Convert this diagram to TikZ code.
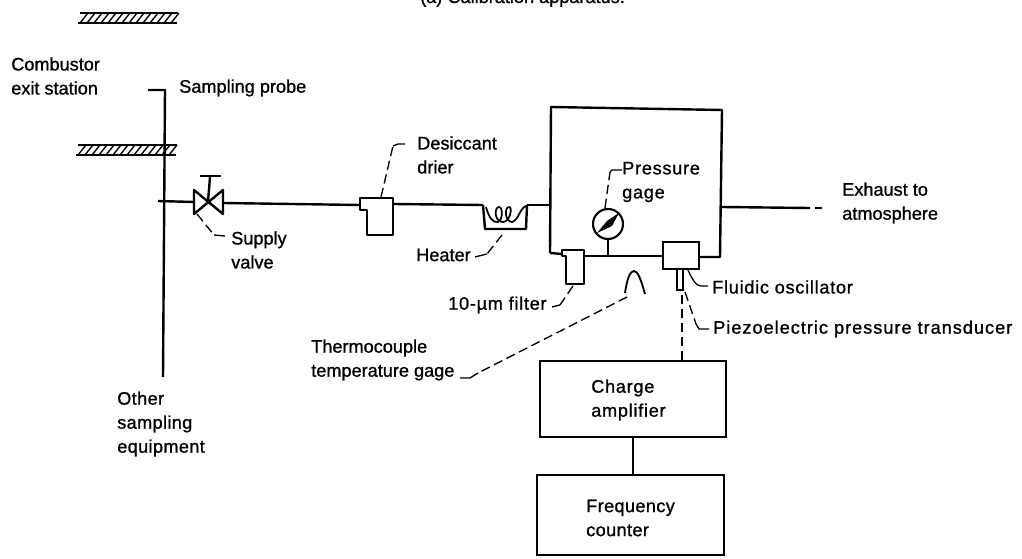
\documentclass[tikz,border=0pt]{standalone}
\usepackage{fontspec}
\setmainfont{Liberation Sans}[BoldFont={Liberation Sans},BoldFeatures={FakeBold=1}]
\begin{document}
\begin{tikzpicture}[x=0.75pt,y=-0.75pt,
  pipe/.style={line width=1.8pt,line join=round},
  leader/.style={line width=1pt,dash pattern=on 7pt off 3.5pt},
  solidleader/.style={line width=1pt},
  boxnode/.style={draw,line width=1.8pt,inner sep=0pt},
  lbl/.style={font=\fontsize{13.6pt}{18pt}\selectfont\bfseries,align=left,anchor=west,inner sep=0pt},
  slight/.style={font=\fontsize{13.6pt}{18pt}\selectfont\bfseries\addfontfeatures{LetterSpace=2}},
  wide/.style={font=\fontsize{13.6pt}{18pt}\selectfont\bfseries\addfontfeatures{LetterSpace=4}},
  wider/.style={font=\fontsize{13.6pt}{18pt}\selectfont\bfseries\addfontfeatures{LetterSpace=5.5}},
  hatchwall/.style={line width=1pt}]
\useasboundingbox (0,0) rectangle (1022,559);
\clip (0,0) rectangle (1022,559);
% title, cut by the page edge as in the reference
\node[lbl,anchor=base west] (title) at (420,3) {(a) Calibration apparatus.};
% walls
\draw[line width=1.8pt] (80,13) -- (178,13);
\draw[line width=1.8pt] (78,23) -- (177,23);
\foreach \i in {0,...,13} \draw[hatchwall] ({80+7*\i},23) -- ({88+7*\i},13);
\draw[line width=1.8pt] (78,145) -- (177,145);
\draw[line width=1.8pt] (76,155) -- (176,155);
\foreach \i in {0,...,13} \draw[hatchwall] ({78+7*\i},155) -- ({86+7*\i},145);
% labels
\node[lbl] (combustor) at (11,76) {Combustor\\exit station};
\node[lbl] (probe) at (179,88) {Sampling probe};
\node[lbl] (supply) at (231,250) {Supply\\valve};
\node[lbl] (drier) at (417,155) {Desiccant\\drier};
\node[lbl] (heater) at (416,255) {Heater};
\node[lbl,wide] (filter) at (448,305) {10-µm filter};
\node[lbl,wide] (pgage) at (622,182) {Pressure\\gage};
\node[lbl] (thermo) at (311,360) {Thermocouple\\temperature gage};
\node[lbl,wide] (fluidic) at (712,287) {Fluidic oscillator};
\node[lbl,wider] (piezo) at (713,329) {Piezoelectric pressure transducer};
\node[lbl] (exhaust) at (842,203) {Exhaust to\\atmosphere};
\node[lbl,slight] (other) at (117,424) {Other\\sampling\\equipment};
% boxes
\node[boxnode,minimum width=36*0.75pt,minimum height=27*0.75pt] (osc) at (681,255.5) {};
\node[boxnode,minimum width=6*0.75pt,minimum height=21*0.75pt,line width=1.2pt] (trans) at (680,279.5) {};
\node[boxnode,minimum width=186*0.75pt,minimum height=76*0.75pt] (charge) at (633,399) {};
\node[lbl,wide] (chargetxt) at (591,400) {Charge\\amplifier};
\node[boxnode,minimum width=187*0.75pt,minimum height=80*0.75pt] (freq) at (630.5,515) {};
\node[lbl,slight] (freqtxt) at (586,518) {Frequency\\counter};
\node[circle,draw,line width=1.6pt,minimum size=30*0.75pt,inner sep=0pt] (gauge) at (608,224) {};
% coordinates
\coordinate (probetop) at (148,90);
\coordinate (probecorner) at (165,90);
\coordinate (probebottom) at (163,377);
\coordinate (branch) at (158,201);
\coordinate (valve) at (208,202);
\coordinate (valveL) at (194,202);
\coordinate (valveR) at (223,203);
\coordinate (drierL) at (360,205);
\coordinate (drierR) at (393,204);
\coordinate (heatL) at (483,205);
\coordinate (heatR) at (527,205);
\coordinate (chamberin) at (551,205);
\coordinate (chTL) at (551,107);
\coordinate (chTR) at (722,110);
\coordinate (chBL) at (550,253);
\coordinate (chBR) at (720,257);
\coordinate (filterL) at (562,254);
\coordinate (filterR) at (584,256);
\coordinate (tee) at (608,256);
\coordinate (exhaustA) at (722,207);
\coordinate (exhaustB) at (810,208);
% probe
\draw[pipe] (probetop) -- (probecorner) -- (probebottom);
\draw[pipe] (branch) -- (valveL);
% valve
\draw[pipe] (valveL) ++(0,-12) -- ++(0,24) -- (223,190) -- (223,214) -- cycle;
\draw[pipe] (valve) -- (210,177);
\draw[pipe] (200,176) -- (221,176);
\draw[pipe] (valveR) -- (drierL);
% drier
\draw[pipe] (drierL) |- (393,198) -- (393,235) -| (367,210) -- (360,210) -- (drierL);
\draw[pipe] (drierR) -- (heatL);
% heater
\draw[pipe] (heatL) -- (485,229) -- (526,229) -- (heatR);
\draw[line width=1.3pt] (486,207) .. controls (489,218) and (493,223) .. (498,222)
  .. controls (503,220) and (503,207) .. (499,207) .. controls (494,207) and (494,222) .. (503,222)
  .. controls (510,222) and (513,207) .. (509,207) .. controls (504,207) and (505,222) .. (512,222)
  .. controls (518,221) and (520,208) .. (526,206);
\draw[pipe] (heatR) -- (chamberin);
% chamber
\draw[pipe] (chBL) -- (chTL) -- (chTR) -- (chBR) -- (osc.east |- chBR);
\draw[pipe] (chBL) -- (filterL);
% filter
\draw[pipe] (562,250) -- (584,250) -- (584,284) -- (566,284) -- (566,256) -- (562,256) -- cycle;
\draw[pipe] (filterR) -- (tee) -- (osc.west |- tee);
% gauge
\draw[pipe] (gauge.south) -- (tee);
\fill (597,233) -- (607,221) -- (619,213) -- (612,226) -- cycle;
% exhaust
\draw[pipe] (exhaustA) -- (exhaustB);
\draw[pipe] (815,208) -- (822,208);
% thermocouple
\draw[line width=1.4pt] (625,293) .. controls (627,279) and (630,271) .. (634,271) .. controls (638,271) and (641,280) .. (645,294);
% electric
\draw[leader,line width=1.4pt] (682,295) -- (charge.north -| 682,295);
\draw[pipe] (charge.south) -- (freq.north -| charge.south);
% leaders
\draw[leader] (197,214) -- (214,235);
\draw[solidleader] (214,235) -- (225,236);
\draw[leader] (381,197) -- (393,146);
\draw[solidleader] (393,146) -- (398,144) -- (405,144);
\draw[leader] (502,235) -- (487,254);
\draw[solidleader] (487,254) -- (475,257);
\draw[leader] (573,286) -- (560,305);
\draw[solidleader] (560,305) -- (552,307);
\draw[leader] (605,208) -- (610,172);
\draw[solidleader] (610,172) -- (612,170) -- (622,170);
\draw[leader] (627,297) -- (478,373);
\draw[solidleader] (478,373) -- (470,378) -- (460,378);
\draw[solidleader] (688,270) .. controls (692,279) and (696,286) .. (701,286) -- (708,286);
\draw[leader] (685,292) -- (696,324);
\draw[solidleader] (696,324) -- (699,329) -- (709,329);
\end{tikzpicture}
\end{document}
